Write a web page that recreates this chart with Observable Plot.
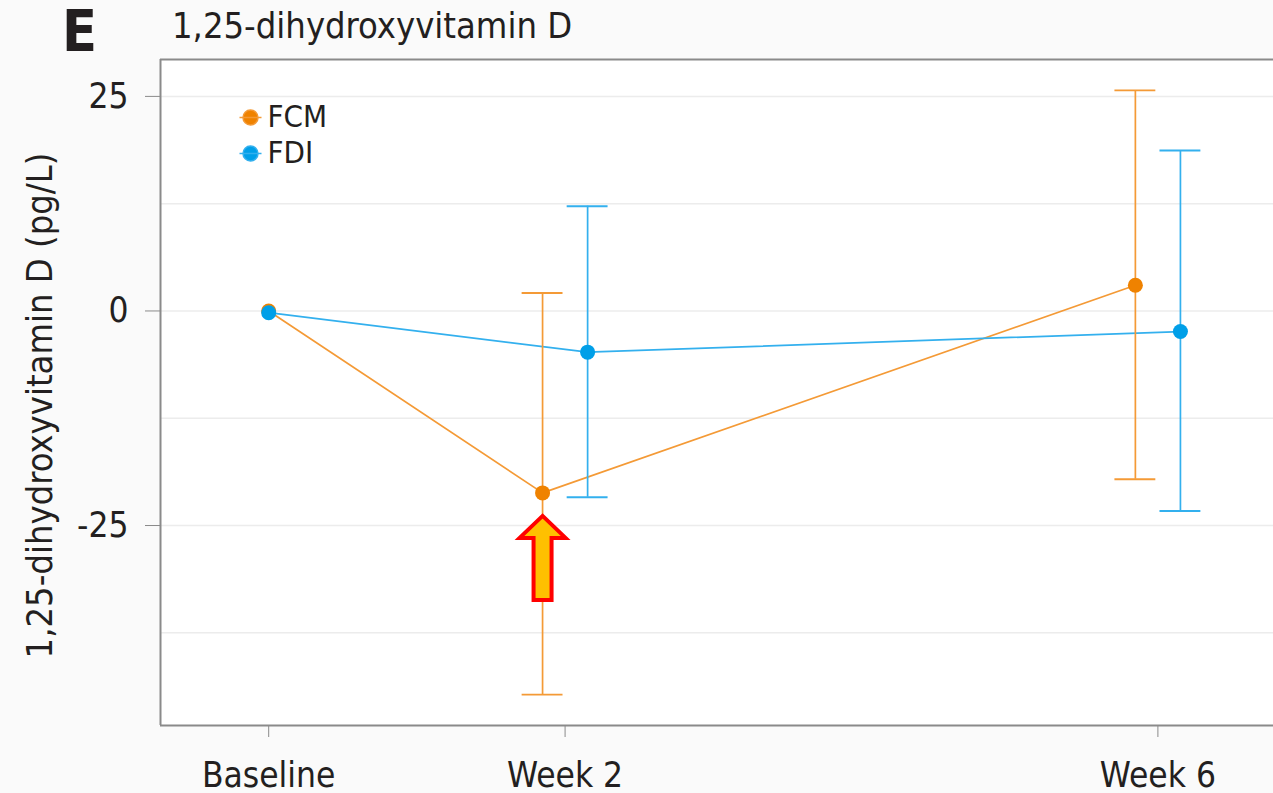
<!DOCTYPE html>
<html><head><meta charset="utf-8">
<script src="https://cdn.jsdelivr.net/npm/d3@7"></script>
<script src="https://cdn.jsdelivr.net/npm/@observablehq/plot@0.6"></script>
<style>
html,body{margin:0;padding:0;background:#fafafa;}
body{width:1273px;height:793px;overflow:hidden;font-family:"DejaVu Sans Condensed","DejaVu Sans",sans-serif;color:#231f20;}
#header{position:relative;height:56px;}
#panel{position:absolute;left:62px;top:3px;font-weight:bold;font-size:57px;line-height:1;}
#title{position:absolute;left:172px;top:8px;font-size:36px;line-height:1;}
</style></head><body>
<div id="header"><span id="panel">E</span><span id="title">1,25-dihydroxyvitamin D</span></div>
<div id="chart"></div>
<script>
// ---- data ----
const timepoints = [0, 2, 6];
const tickLabels = ["Baseline", "Week 2", "Week 6"];
const series = ["FCM", "FDI"];
const fcmMean = [0, -21.2, 3.0];
const fcmLow = [null, -44.7, -19.6];
const fcmHigh = [null, 2.1, 25.7];
const fdiMean = [-0.2, -4.8, -2.4];
const fdiLow = [null, -21.7, -23.3];
const fdiHigh = [null, 12.2, 18.7];
const yTicks = [-25, 0, 25];
const yGrid = [-37.5, -25, -12.5, 0, 12.5, 25];
const xDomain = [-0.73, 6.78];
const yDomain = [-48.3, 29.3];
const yLabel = "1,25-dihydroxyvitamin D (pg/L)";

// ---- styling ----
const dotColors = ["#ef8200", "#009fe8"];
const lineColors = ["#f49a36", "#33b0ee"];
const dodge = 0.152, capHalf = 0.138;
const font = '"DejaVu Sans Condensed","DejaVu Sans",sans-serif';

const means = [fcmMean, fdiMean], lows = [fcmLow, fdiLow], highs = [fcmHigh, fdiHigh];
const rows = [];
series.forEach((s, si) => {
  timepoints.forEach((t, i) => {
    rows.push({series: s, si, t, x: t === 0 ? t : t + (si === 0 ? -dodge : dodge),
      mean: means[si][i], low: lows[si][i], high: highs[si][i]});
  });
});
const bars = rows.filter(d => d.low != null);

const legendSymbol = {draw(ctx) { ctx.moveTo(-11, 0); ctx.lineTo(11, 0); ctx.moveTo(7.5, 0); ctx.arc(0, 0, 7.5, 0, 2 * Math.PI); }};
const arrowSymbol = {draw(ctx) {
  ctx.moveTo(0, 23); ctx.lineTo(23, 45); ctx.lineTo(9, 45); ctx.lineTo(9, 107);
  ctx.lineTo(-9, 107); ctx.lineTo(-9, 45); ctx.lineTo(-23, 45); ctx.closePath();
}};
const highlight = rows.filter(d => d.series === "FCM" && d.t === 2);

const marks = [
  Plot.frame({fill: "white", stroke: null}),
  Plot.ruleY(yGrid, {stroke: "#ececec", strokeWidth: 1.5}),
  Plot.ruleX([xDomain[0]], {stroke: "#8a8a8a", strokeWidth: 2}),
  Plot.ruleY([yDomain[0], yDomain[1]], {stroke: "#8a8a8a", strokeWidth: 2}),
  Plot.axisY(yTicks, {tickSize: 15, tickPadding: 17, fontSize: 35, label: null, stroke: "#8a8a8a", fill: "#231f20",
    tickFormat: d => String(d)}),
  Plot.axisX(timepoints, {tickSize: 12, tickPadding: 25, fontSize: 35, label: null, stroke: "#8a8a8a", fill: "#231f20",
    tickFormat: d => tickLabels[timepoints.indexOf(d)]}),
  Plot.text([yLabel], {frameAnchor: "left", dx: -120, dy: 13, rotate: -90, textAnchor: "middle", lineAnchor: "middle",
    fontSize: 36, fill: "#231f20", text: d => d}),
  ...series.map((s, si) => Plot.line(rows.filter(d => d.si === si), {x: "x", y: "mean", stroke: lineColors[si], strokeWidth: 1.7})),
  ...series.map((s, si) => Plot.ruleX(bars.filter(d => d.si === si), {x: "x", y1: "low", y2: "high", stroke: lineColors[si], strokeWidth: 1.7})),
  ...series.map((s, si) => Plot.ruleY(bars.filter(d => d.si === si), {y: "low", x1: d => d.x - capHalf, x2: d => d.x + capHalf, stroke: lineColors[si], strokeWidth: 1.9})),
  ...series.map((s, si) => Plot.ruleY(bars.filter(d => d.si === si), {y: "high", x1: d => d.x - capHalf, x2: d => d.x + capHalf, stroke: lineColors[si], strokeWidth: 1.9})),
  ...series.map((s, si) => Plot.dot(rows.filter(d => d.si === si), {x: "x", y: "mean", r: 7.5, fill: dotColors[si], stroke: null})),
  Plot.dot(highlight, {x: "x", y: "mean", symbol: arrowSymbol, fill: "#ffc000", stroke: "#ff0000", strokeWidth: 4, strokeLinejoin: "miter"}),
  ...series.flatMap((s, i) => [
    Plot.dot([s], {frameAnchor: "top-left", dx: 90, dy: 58 + i * 36, symbol: legendSymbol, fill: dotColors[i], stroke: lineColors[i], strokeWidth: 1.5}),
    Plot.text([s], {frameAnchor: "top-left", dx: 107, dy: 58 + i * 36, text: d => d, textAnchor: "start", lineAnchor: "middle", fontSize: 31, fill: "#231f20"})
  ])
];

const chart = Plot.plot({
  width: 1273, height: 737,
  marginLeft: 160, marginRight: 0, marginTop: 3, marginBottom: 68,
  x: {domain: xDomain}, y: {domain: yDomain},
  style: {fontFamily: font, background: "transparent", overflow: "visible"},
  marks
});
document.getElementById("chart").appendChild(chart);
</script>
</body></html>
